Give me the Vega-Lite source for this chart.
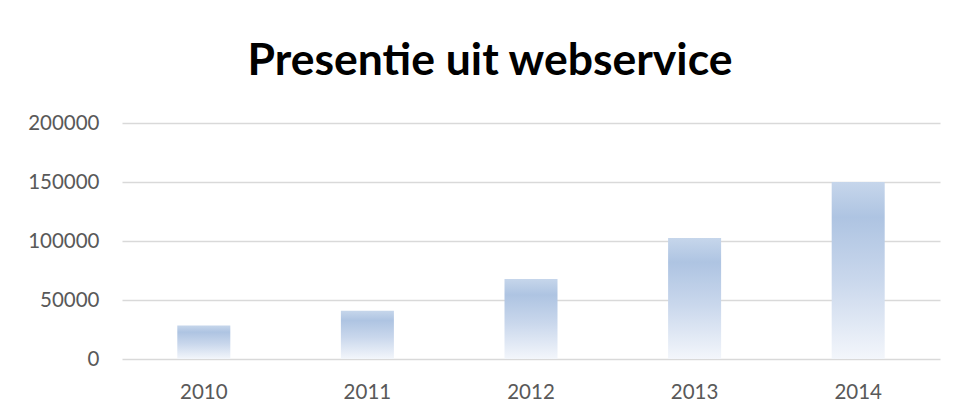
{
  "$schema": "https://vega.github.io/schema/vega-lite/v6.json",
  "width": 818,
  "height": 236,
  "autosize": {"type": "none"},
  "padding": {"left": 122, "top": 123, "right": 20, "bottom": 55},
  "background": "white",
  "title": {
    "text": "Presentie uit webservice",
    "font": "Lato",
    "fontSize": 44.5,
    "fontWeight": "bold",
    "color": "#000000",
    "anchor": "middle",
    "dx": -41,
    "offset": 29
  },
  "data": {
    "values": [
      {"jaar": "2010", "presentie": 28400},
      {"jaar": "2011", "presentie": 40800},
      {"jaar": "2012", "presentie": 67900},
      {"jaar": "2013", "presentie": 102500},
      {"jaar": "2014", "presentie": 150000}
    ]
  },
  "mark": {
    "type": "bar",
    "color": {
      "gradient": "linear",
      "x1": 0, "y1": 0, "x2": 0, "y2": 1,
      "stops": [
        {"offset": 0, "color": "#c6d6eb"},
        {"offset": 0.2, "color": "#aec4e2"},
        {"offset": 0.55, "color": "#c9d7ec"},
        {"offset": 1, "color": "#f3f6fb"}
      ]
    }
  },
  "encoding": {
    "x": {
      "field": "jaar",
      "type": "nominal",
      "sort": null,
      "scale": {"paddingInner": 0.676, "paddingOuter": 0.338},
      "axis": {
        "title": null,
        "labelAngle": 0,
        "labelFont": "Lato",
        "labelFontSize": 20.5,
        "labelColor": "#595959",
        "labelPadding": 23,
        "ticks": false,
        "domain": false,
        "grid": false
      }
    },
    "y": {
      "field": "presentie",
      "type": "quantitative",
      "scale": {"domain": [0, 200000], "nice": false},
      "axis": {
        "title": null,
        "values": [0, 50000, 100000, 150000, 200000],
        "format": "d",
        "labelFont": "Lato",
        "labelFontSize": 20.5,
        "labelColor": "#595959",
        "labelPadding": 23,
        "ticks": false,
        "domain": false,
        "grid": true,
        "gridColor": "#d9d9d9",
        "gridWidth": 1.6
      }
    }
  },
  "config": {
    "view": {"stroke": null}
  }
}
